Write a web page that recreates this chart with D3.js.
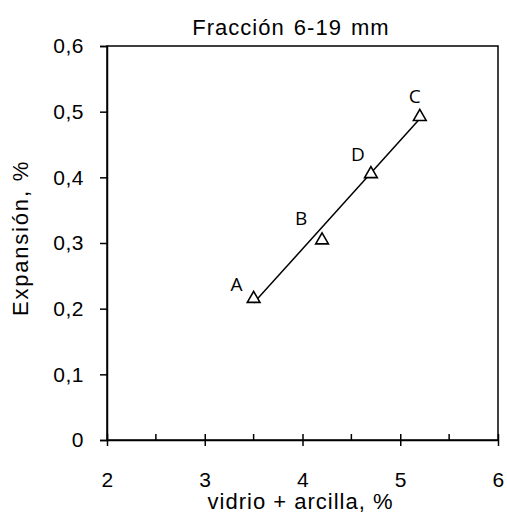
<!DOCTYPE html>
<html>
  <head>
    <style>
    body {
      font-family: "Liberation Sans", Arial, sans-serif;
      margin: 0;
      background: #fff;
    }
    </style>
  </head>
  <body>
    <script src="https://d3js.org/d3.v7.min.js"></script>
    <script>
    // data
    var names = ["A", "B", "D", "C"];
    var glassClay = [3.5, 4.2, 4.7, 5.2];
    var expansion = [0.218, 0.307, 0.408, 0.495];
    var xTicks = [2, 3, 4, 5, 6];
    var yTicks = [0, 0.1, 0.2, 0.3, 0.4, 0.5, 0.6];

    // where each letter sits relative to its marker
    var labelShift = [[-17, -6], [-21, -13], [-13, -11], [-5, -12]];

    var width = 507, height = 515;
    var margin = {top: 46, right: 9, bottom: 75, left: 107};

    var svg = d3.select("body").append("svg")
        .attr("width", width)
        .attr("height", height);

    var x = d3.scaleLinear().domain([2, 6]).range([margin.left, width - margin.right]);
    var y = d3.scaleLinear().domain([0, 0.6]).range([height - margin.bottom, margin.top]);

    // frame
    svg.append("rect")
        .attr("x", x(2)).attr("y", y(0.6))
        .attr("width", x(6) - x(2)).attr("height", y(0) - y(0.6))
        .attr("fill", "none").attr("stroke", "#000").attr("stroke-width", 1.5);

    var fmt = function(d) { return String(d).replace(".", ","); };

    // y axis
    var yAxis = svg.append("g")
        .attr("transform", "translate(" + x(2) + ",0)")
        .call(d3.axisLeft(y).tickValues(yTicks).tickSize(7).tickPadding(16).tickFormat(fmt));

    // x axis: minor ticks inside, major ticks crossing
    var minor = d3.range(2.5, 6, 1);
    svg.append("g").selectAll("line").data(minor).join("line")
        .attr("x1", function(d) { return x(d); }).attr("x2", function(d) { return x(d); })
        .attr("y1", y(0) - 6).attr("y2", y(0))
        .attr("stroke", "#000").attr("stroke-width", 1.5);

    var xAxis = svg.append("g")
        .attr("transform", "translate(0," + y(0) + ")")
        .call(d3.axisBottom(x).tickValues(xTicks).tickSizeInner(6).tickSizeOuter(0).tickPadding(26).tickFormat(fmt));
    xAxis.selectAll(".tick line").attr("y1", -6);

    [yAxis, xAxis].forEach(function(g) {
      g.select(".domain").attr("stroke-width", 1.5);
      g.selectAll(".tick line").attr("stroke-width", 1.5);
      g.selectAll("text")
          .attr("font-family", "Liberation Sans, Arial, sans-serif")
          .attr("font-size", 21)
          .attr("letter-spacing", 0.5)
          .attr("fill", "#000");
    });

    // trend line (least squares through the points)
    var mx = d3.mean(glassClay), my = d3.mean(expansion);
    var sxy = d3.sum(glassClay, function(v, i) { return (v - mx) * (expansion[i] - my); });
    var sxx = d3.sum(glassClay, function(v) { return (v - mx) * (v - mx); });
    var slope = sxy / sxx, icpt = my - slope * mx;
    var ends = d3.extent(glassClay);

    svg.append("line")
        .attr("x1", x(ends[0])).attr("y1", y(icpt + slope * ends[0]))
        .attr("x2", x(ends[1])).attr("y2", y(icpt + slope * ends[1]))
        .attr("stroke", "#000").attr("stroke-width", 1.5);

    // markers, centred on their box like the spreadsheet draws them
    var triSize = 70;
    var triShift = Math.sqrt(triSize / (Math.sqrt(3) * 3)) / 2;
    var tri = d3.symbol().type(d3.symbolTriangle).size(triSize);
    svg.append("g").selectAll("path").data(glassClay).join("path")
        .attr("d", tri)
        .attr("transform", function(d, i) { return "translate(" + x(d) + "," + (y(expansion[i]) + triShift) + ")"; })
        .attr("fill", "#fff").attr("stroke", "#000").attr("stroke-width", 1.6);

    // point letters
    svg.append("g").selectAll("text").data(names).join("text")
        .attr("x", function(d, i) { return x(glassClay[i]) + labelShift[i][0]; })
        .attr("y", function(d, i) { return y(expansion[i]) + labelShift[i][1]; })
        .attr("text-anchor", "middle")
        .attr("font-family", "'Open Sans', sans-serif")
        .attr("font-size", 19)
        .text(function(d) { return d; });

    // titles
    svg.append("text")
        .attr("x", 291).attr("y", 35)
        .attr("text-anchor", "middle")
        .attr("font-size", 22)
        .attr("letter-spacing", 1)
        .attr("word-spacing", 2)
        .text("Fracción 6-19 mm");

    svg.append("text")
        .attr("x", (x(2) + x(6)) / 2 - 2).attr("y", 509)
        .attr("text-anchor", "middle")
        .attr("font-size", 22)
        .attr("letter-spacing", 1)
        .text("vidrio + arcilla, %");

    svg.append("text")
        .attr("transform", "translate(28," + ((y(0) + y(0.6)) / 2 - 5) + ") rotate(-90)")
        .attr("text-anchor", "middle")
        .attr("font-size", 22)
        .attr("letter-spacing", 1.8)
        .text("Expansión, %");
    </script>
  </body>
</html>
